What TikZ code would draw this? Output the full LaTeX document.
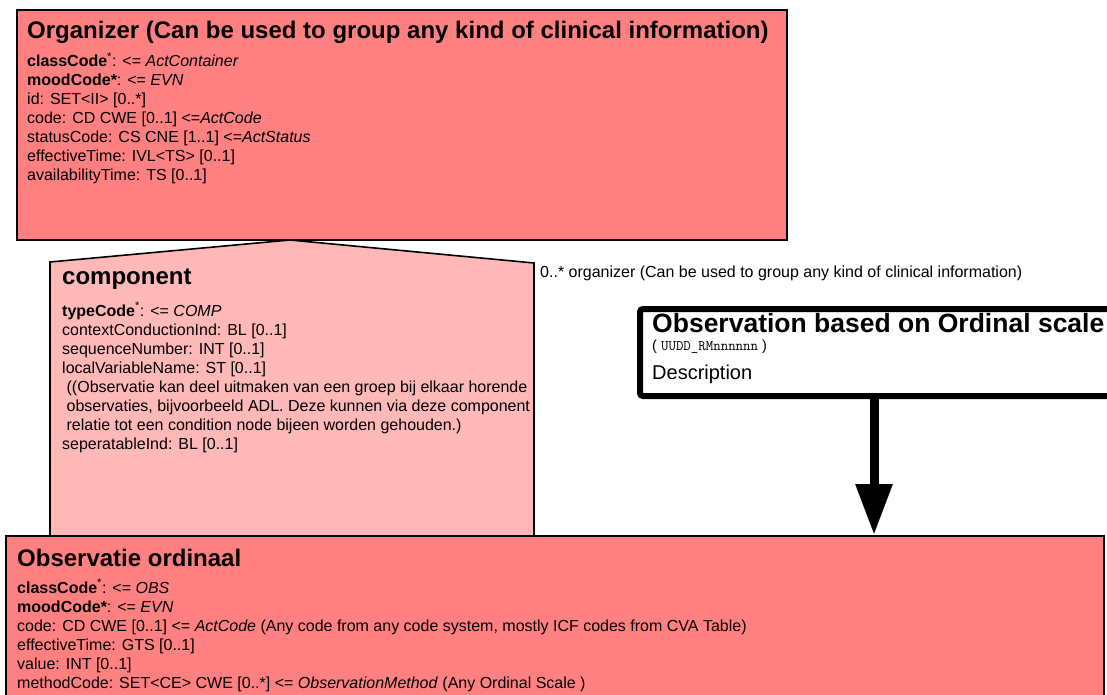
\documentclass[tikz,border=0pt]{standalone}
\usepackage{fontspec}
\setmainfont{Liberation Sans}
\usetikzlibrary{arrows.meta}
\definecolor{orgfill}{HTML}{FF8080}
\definecolor{compfill}{HTML}{FFB8B8}
\begin{document}
\begin{tikzpicture}[x=1pt,y=-1pt,
  umlbox/.style={draw=black, line width=1.6pt, inner sep=0pt, anchor=north west},
  titletext/.style={font=\fontsize{24}{28}\selectfont\bfseries, anchor=base west, inner sep=0pt},
  attrtext/.style={font=\fontsize{16}{19}\selectfont, anchor=base west, align=left, inner sep=0pt},
  hmdbox/.style={draw=black, line width=6pt, fill=white, rounded corners=3pt, inner sep=0pt, anchor=north west},
]
\useasboundingbox (0,0) rectangle (1107,695);

% Organizer box
\node[umlbox, fill=orgfill, minimum width=770pt, minimum height=230pt] (organizer) at (16,9) {};

% component association (pentagon)
\coordinate (apex) at (290,240);
\draw[line width=1.6pt, fill=compfill] (50,540) -- (50,262) -- (apex) -- (534,263) -- (534,540) -- cycle;

% Observatie ordinaal box
\node[umlbox, fill=orgfill, minimum width=1098pt, minimum height=200pt] (obs) at (5,535) {};

% Observation based on Ordinal scale box
\node[hmdbox, minimum width=500pt, minimum height=87pt] (hmd) at (637,306) {};

% arrow
\coordinate (arrtop) at (874,393);
\coordinate (arrbot) at (874,535);
\draw[line width=9pt, -{Triangle[width=35pt,length=51pt]}] (arrtop) -- (arrbot);

% Organizer texts (multi-line nodes: base = last line)
\node[titletext] (orgtitle) at (27,38.5) {Organizer (Can be used to group any kind of clinical information)};
\node[attrtext] (orgattr) at (27,181) {%
\textbf{classCode}\textsuperscript{*}: <= \textit{ActContainer}\\
\textbf{moodCode*}: <= \textit{EVN}\\
id: SET<II> [0..*]\\
code: CD CWE [0..1] <=\textit{ActCode}\\
statusCode: CS CNE [1..1] <=\textit{ActStatus}\\
effectiveTime: IVL<TS> [0..1]\\
availabilityTime: TS [0..1]};

% component texts
\node[titletext] (comptitle) at (62,284.5) {component};
\node[attrtext] (compattr) at (62,449) {%
\textbf{typeCode}\textsuperscript{*}: <= \textit{COMP}\\
contextConductionInd: BL [0..1]\\
sequenceNumber: INT [0..1]\\
localVariableName: ST [0..1]\\
~((Observatie kan deel uitmaken van een groep bij elkaar horende\\
~observaties, bijvoorbeeld ADL. Deze kunnen via deze component\\
~relatie tot een condition node bijeen worden gehouden.)\\
seperatableInd: BL [0..1]};

% association label
\node[attrtext] (assoclabel) at (540,277) {0..* organizer (Can be used to group any kind of clinical information)};

% HMD box texts
\node[font=\fontsize{26.5}{30}\selectfont\bfseries, anchor=base west, inner sep=0pt] (hmdtitle) at (652,332.5) {Observation based on Ordinal scale};
\node[font=\fontsize{14.5}{16}\selectfont, anchor=base west, inner sep=0pt] (hmdid) at (652,350.5) {( {\ttfamily UUDD\_RMnnnnnn} )};
\node[font=\fontsize{20}{24}\selectfont, anchor=base west, inner sep=0pt] (hmddesc) at (652,379.5) {Description};

% Observatie ordinaal texts
\node[titletext] (obstitle) at (17,566.5) {Observatie ordinaal};
\node[attrtext] (obsattr) at (17,688) {%
\textbf{classCode}\textsuperscript{*}: <= \textit{OBS}\\
\textbf{moodCode*}: <= \textit{EVN}\\
code: CD CWE [0..1] <= \textit{ActCode} (Any code from any code system, mostly ICF codes from CVA Table)\\
effectiveTime: GTS [0..1]\\
value: INT [0..1]\\
methodCode: SET<CE> CWE [0..*] <= \textit{ObservationMethod} (Any Ordinal Scale )};
\end{tikzpicture}
\end{document}
